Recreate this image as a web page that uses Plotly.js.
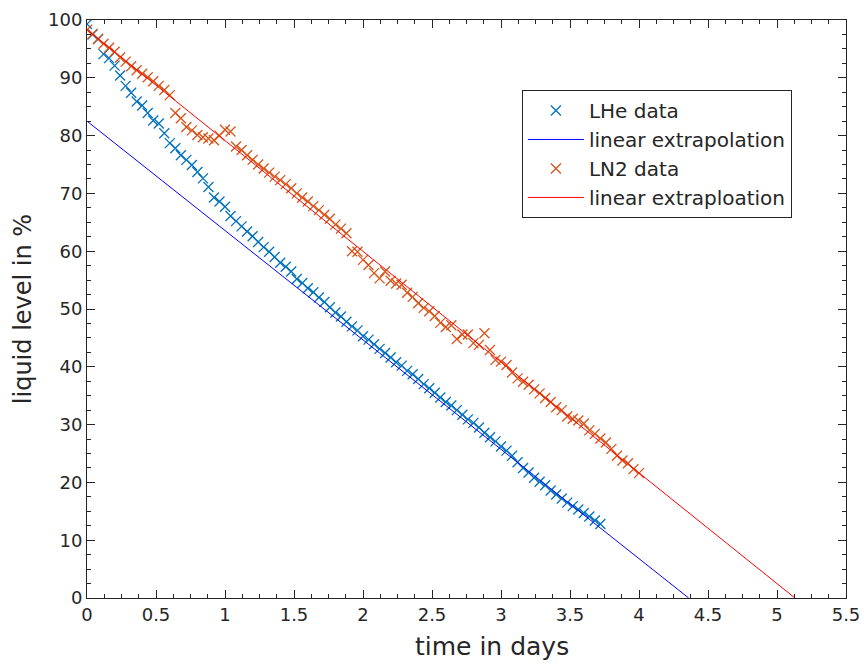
<!DOCTYPE html>
<html>
<head>
<meta charset="utf-8">
<script src="https://cdn.plot.ly/plotly-3.0.1.min.js"></script>
<style>html,body{margin:0;padding:0;background:#fff;}#chart{width:864px;height:664px;}</style>
</head>
<body>
<div id="chart"></div>
<script>
// LHe data (time in days, liquid level in %)
const lheT = [0,0.04,0.08,0.12,0.16,0.20,0.24,0.28,0.32,0.36,0.40,0.44,0.48,0.52,0.56,0.60,0.64,0.68,0.72,0.76,0.80,0.84,0.88,0.92,0.96,1.00,1.04,1.08,1.12,1.16,1.20,1.24,1.28,1.32,1.36,1.40,1.44,1.48,1.52,1.56,1.60,1.64,1.68,1.72,1.76,1.80,1.84,1.88,1.92,1.96,2.00,2.04,2.08,2.12,2.16,2.20,2.24,2.28,2.32,2.36,2.40,2.44,2.48,2.52,2.56,2.60,2.64,2.68,2.72,2.76,2.80,2.84,2.88,2.92,2.96,3.00,3.04,3.08,3.12,3.16,3.20,3.24,3.28,3.32,3.36,3.40,3.44,3.48,3.52,3.56,3.60,3.64,3.68,3.72];
const lheLevel = [99.3,97.5,96.7,94.1,93.4,92.1,90.4,88.6,87.4,85.9,85.2,83.9,82.6,82.1,80.4,78.7,77.8,76.6,75.8,74.9,73.7,72.6,71.1,69.3,68.6,67.7,66.1,65.2,64.3,63.4,62.6,61.6,60.7,59.9,59.0,58.0,57.3,56.5,55.2,54.5,53.6,52.9,52.0,51.2,50.3,49.4,48.7,47.8,47.0,46.3,45.3,44.7,43.9,43.1,42.4,41.6,40.8,40.2,39.3,38.7,37.9,37.0,36.3,35.5,34.7,33.9,33.3,32.5,31.7,30.9,30.3,29.5,28.6,27.8,27.1,26.2,25.5,24.6,23.5,22.5,21.7,20.8,20.1,19.5,18.6,17.9,17.2,16.5,15.9,15.3,14.7,14.1,13.4,12.8];
// LHe linear extrapolation endpoints
const lheFitT = [0, 4.36];
const lheFitLevel = [82.5, 0];

// LN2 data
const ln2T = [0,0.04,0.08,0.12,0.16,0.20,0.24,0.28,0.32,0.36,0.40,0.44,0.48,0.52,0.56,0.60,0.64,0.68,0.72,0.76,0.80,0.84,0.88,0.92,0.96,1.00,1.04,1.08,1.12,1.16,1.20,1.24,1.28,1.32,1.36,1.40,1.44,1.48,1.52,1.56,1.60,1.64,1.68,1.72,1.76,1.80,1.84,1.88,1.92,1.96,2.00,2.04,2.08,2.12,2.16,2.20,2.24,2.28,2.32,2.36,2.40,2.44,2.48,2.52,2.56,2.60,2.64,2.68,2.72,2.76,2.80,2.84,2.88,2.92,2.96,3.00,3.04,3.08,3.12,3.16,3.20,3.24,3.28,3.32,3.36,3.40,3.44,3.48,3.52,3.56,3.60,3.64,3.68,3.72,3.76,3.80,3.84,3.88,3.92,3.96,4.00];
const ln2Level = [98.3,97.6,96.7,95.9,95.2,94.5,93.5,92.8,92.0,91.3,90.7,90.1,89.4,88.6,87.9,87.0,83.9,83.0,81.5,80.9,80.1,79.7,79.5,79.2,80.0,81.0,80.7,78.1,77.5,76.6,75.8,75.0,74.3,73.6,72.9,72.3,71.6,70.9,70.0,69.3,68.6,67.8,67.1,66.3,65.6,64.6,63.9,63.1,60.0,59.9,58.5,57.6,56.2,55.3,56.5,54.9,54.4,54.2,52.8,52.1,51.0,50.2,49.6,48.8,47.6,46.9,47.2,44.8,45.6,45.6,44.1,43.8,45.8,42.9,41.2,40.9,40.3,39.0,38.0,37.4,36.9,36.1,35.4,34.6,33.9,33.0,32.5,31.4,31.0,30.7,30.2,29.0,28.4,27.6,26.9,25.8,24.6,23.8,23.3,22.3,21.6];
// LN2 linear extrapolation endpoints
const ln2FitT = [0, 5.13];
const ln2FitLevel = [98.3, 0];

const xTicks = [0,0.5,1,1.5,2,2.5,3,3.5,4,4.5,5,5.5];
const xTickText = ['0','0.5','1','1.5','2','2.5','3','3.5','4','4.5','5','5.5'];
const yTicks = [0,10,20,30,40,50,60,70,80,90,100];

const FONT = 'DejaVu Sans, sans-serif';
const TXT = '#262626';

const traces = [
  {x: lheT, y: lheLevel, type: 'scatter', mode: 'markers', name: 'LHe data',
   marker: {symbol: 'x-thin', size: 10, color: '#0072BD', line: {width: 1.3, color: '#0072BD'}}},
  {x: lheFitT, y: lheFitLevel, type: 'scatter', mode: 'lines', name: 'linear extrapolation',
   line: {color: '#0000FF', width: 1}},
  {x: ln2T, y: ln2Level, type: 'scatter', mode: 'markers', name: 'LN2 data',
   marker: {symbol: 'x-thin', size: 10, color: '#D95319', line: {width: 1.3, color: '#D95319'}}},
  {x: ln2FitT, y: ln2FitLevel, type: 'scatter', mode: 'lines', name: 'linear extraploation',
   line: {color: '#FF0000', width: 1}}
];

const axisCommon = {
  showgrid: false, zeroline: false, showline: true, linecolor: TXT, linewidth: 1,
  mirror: 'allticks', ticks: 'inside', ticklen: 8, tickcolor: TXT, tickwidth: 1,
  tickfont: {family: FONT, size: 18, color: TXT}
};

const layout = {
  width: 864, height: 664,
  margin: {l: 87, r: 18, t: 20, b: 66},
  paper_bgcolor: '#fff', plot_bgcolor: '#fff',
  showlegend: true,
  legend: {x: 0.573, y: 0.879, xanchor: 'left', yanchor: 'top', bgcolor: '#fff',
    bordercolor: TXT, borderwidth: 1, font: {family: FONT, size: 20, color: TXT},
    tracegroupgap: 0, itemwidth: 56},
  xaxis: Object.assign({}, axisCommon, {
    range: [0, 5.5], tickmode: 'array', tickvals: xTicks, ticktext: xTickText,
    minor: {dtick: 0.125, tick0: 0, ticks: 'inside', ticklen: 4, tickcolor: TXT},
    title: {text: ''}
  }),
  yaxis: Object.assign({}, axisCommon, {
    range: [0, 100], tickmode: 'array', tickvals: yTicks,
    minor: {dtick: 2.5, tick0: 0, ticks: 'inside', ticklen: 4, tickcolor: TXT},
    title: {text: 'liquid level in %', font: {family: FONT, size: 24, color: TXT}, standoff: 9}
  }),
  annotations: [
    {text: 'time in days', xref: 'paper', yref: 'paper', x: 0.5336, y: -0.0845,
     xanchor: 'center', yanchor: 'middle', showarrow: false,
     font: {family: FONT, size: 25, color: TXT}}
  ]
};

Plotly.newPlot('chart', traces, layout, {displayModeBar: false, staticPlot: true});
</script>
</body>
</html>
